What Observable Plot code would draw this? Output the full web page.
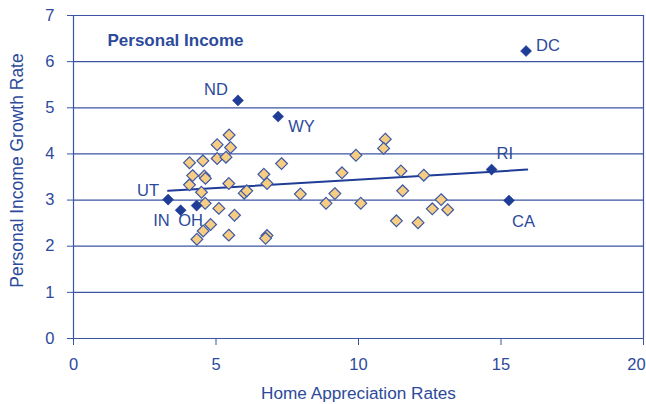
<!DOCTYPE html>
<html>
<head>
<meta charset="utf-8">
<script src="https://cdn.jsdelivr.net/npm/d3@7"></script>
<script src="https://cdn.jsdelivr.net/npm/@observablehq/plot@0.6"></script>
<style>
  html, body { margin: 0; padding: 0; background: #ffffff; }
  #chart { width: 646px; height: 404px; }
</style>
</head>
<body>
<div id="chart"></div>
<script>
// Highlighted states
const stateNames = ["UT", "IN", "OH", "ND", "WY", "RI", "CA", "DC"];
const stateX = [3.32, 3.76, 4.32, 5.77, 7.18, 14.67, 15.28, 15.88];
const stateY = [3.01, 2.78, 2.88, 5.16, 4.81, 3.66, 2.99, 6.23];

// Other states (home appreciation, income growth)
const otherX = [5.46, 5.04, 5.51, 4.07, 4.54, 5.04, 5.35, 7.30, 4.18, 4.59, 4.63, 6.68, 4.07, 5.45, 6.79,
  4.49, 5.99, 6.08, 7.96, 4.62, 5.10, 5.65, 4.81, 4.55, 5.45, 4.33, 6.79, 6.74,
  10.94, 10.88, 9.91, 9.42, 11.49, 12.29, 9.17, 8.86, 10.08, 11.55, 12.90, 12.59, 13.13, 11.33, 12.09];
const otherY = [4.41, 4.20, 4.14, 3.81, 3.85, 3.90, 3.93, 3.79, 3.53, 3.52, 3.47, 3.56, 3.33, 3.36, 3.36,
  3.17, 3.15, 3.20, 3.13, 2.93, 2.82, 2.67, 2.47, 2.33, 2.24, 2.15, 2.23, 2.17,
  4.32, 4.12, 3.97, 3.59, 3.63, 3.54, 3.14, 2.93, 2.93, 3.20, 3.01, 2.81, 2.79, 2.55, 2.51];

// Trend line end points
const trendX = [3.32, 15.92];
const trendY = [3.20, 3.66];

const xTicks = [0, 5, 10, 15, 20];
const yTicks = [0, 1, 2, 3, 4, 5, 6, 7];

const states = stateNames.map((s, i) => ({state: s, x: stateX[i], y: stateY[i]}));
const others = otherX.map((x, i) => ({x, y: otherY[i]}));
const trend = trendX.map((x, i) => ({x, y: trendY[i]}));

// label placement (styling, not data)
const place = {
  UT: {anchor: "end", dx: -9, dy: -9},
  IN: {anchor: "end", dx: -11, dy: 10},
  OH: {anchor: "middle", dx: -6, dy: 15},
  ND: {anchor: "end", dx: -10, dy: -11},
  WY: {anchor: "start", dx: 10, dy: 10},
  RI: {anchor: "start", dx: 5, dy: -16},
  CA: {anchor: "start", dx: 3, dy: 21},
  DC: {anchor: "start", dx: 10, dy: -5}
};

const blue = "#2c4a9b";
const dark = "#1f3c96";
const grid = "#3b55a2";

const labelMarks = states.map(d => Plot.text([d], {
  x: "x", y: "y", text: "state",
  textAnchor: place[d.state].anchor,
  dx: place[d.state].dx, dy: place[d.state].dy,
  fill: blue, fontSize: 16.5, lineAnchor: "middle"
}));

const lastTick = xTicks[xTicks.length - 1];

const chart = Plot.plot({
  width: 646,
  height: 404,
  marginLeft: 73,
  marginRight: 3,
  marginTop: 15,
  marginBottom: 66,
  style: {fontFamily: "'Liberation Sans', Arial, sans-serif", color: blue, background: "#ffffff", fontSize: "16px"},
  x: {domain: [0, 20]},
  y: {domain: [0, 7]},
  marks: [
    Plot.ruleY(yTicks.filter(d => d > 0), {stroke: grid, strokeWidth: 1.2}),
    Plot.axisX({ticks: xTicks, tickSize: 7, tickPadding: 13, tickFormat: d => d === lastTick ? "" : String(d), label: null, fontSize: 16.5, stroke: grid}),
    Plot.axisX({ticks: [lastTick], tickSize: 0, tickPadding: 20, tickFormat: "d", label: null, fontSize: 16.5, dx: -7, stroke: "none"}),
    Plot.axisY({ticks: yTicks, tickSize: 6, tickPadding: 13, tickFormat: "d", label: null, fontSize: 16.5, stroke: grid}),
    Plot.ruleY([0], {stroke: grid, strokeWidth: 1.2}),
    Plot.ruleX([0, 20], {stroke: grid, strokeWidth: 1.2}),
    Plot.line(trend, {x: "x", y: "y", stroke: dark, strokeWidth: 2}),
    Plot.dot(others, {x: "x", y: "y", symbol: "diamond2", r: 5.3, fill: "#f6cd82", stroke: "#3d58a5", strokeWidth: 1.2}),
    Plot.dot(states, {x: "x", y: "y", symbol: "diamond2", r: 5, fill: dark, stroke: dark, strokeWidth: 0.5}),
    ...labelMarks,
    Plot.text(["Personal Income"], {frameAnchor: "top-left", dx: 34, dy: 25, text: d => d, fontWeight: "bold", fontSize: 17, fill: blue, textAnchor: "start", lineAnchor: "middle"}),
    Plot.text(["Home Appreciation Rates"], {frameAnchor: "bottom", dy: 55, text: d => d, fontSize: 17.2, fill: blue, lineAnchor: "middle"}),
    Plot.text(["Personal Income Growth Rate"], {frameAnchor: "left", dx: -56, dy: -6.5, rotate: -90, textAnchor: "middle", text: d => d, fontSize: 17.5, fill: blue, lineAnchor: "middle"})
  ]
});

document.getElementById("chart").appendChild(chart);
</script>
</body>
</html>
